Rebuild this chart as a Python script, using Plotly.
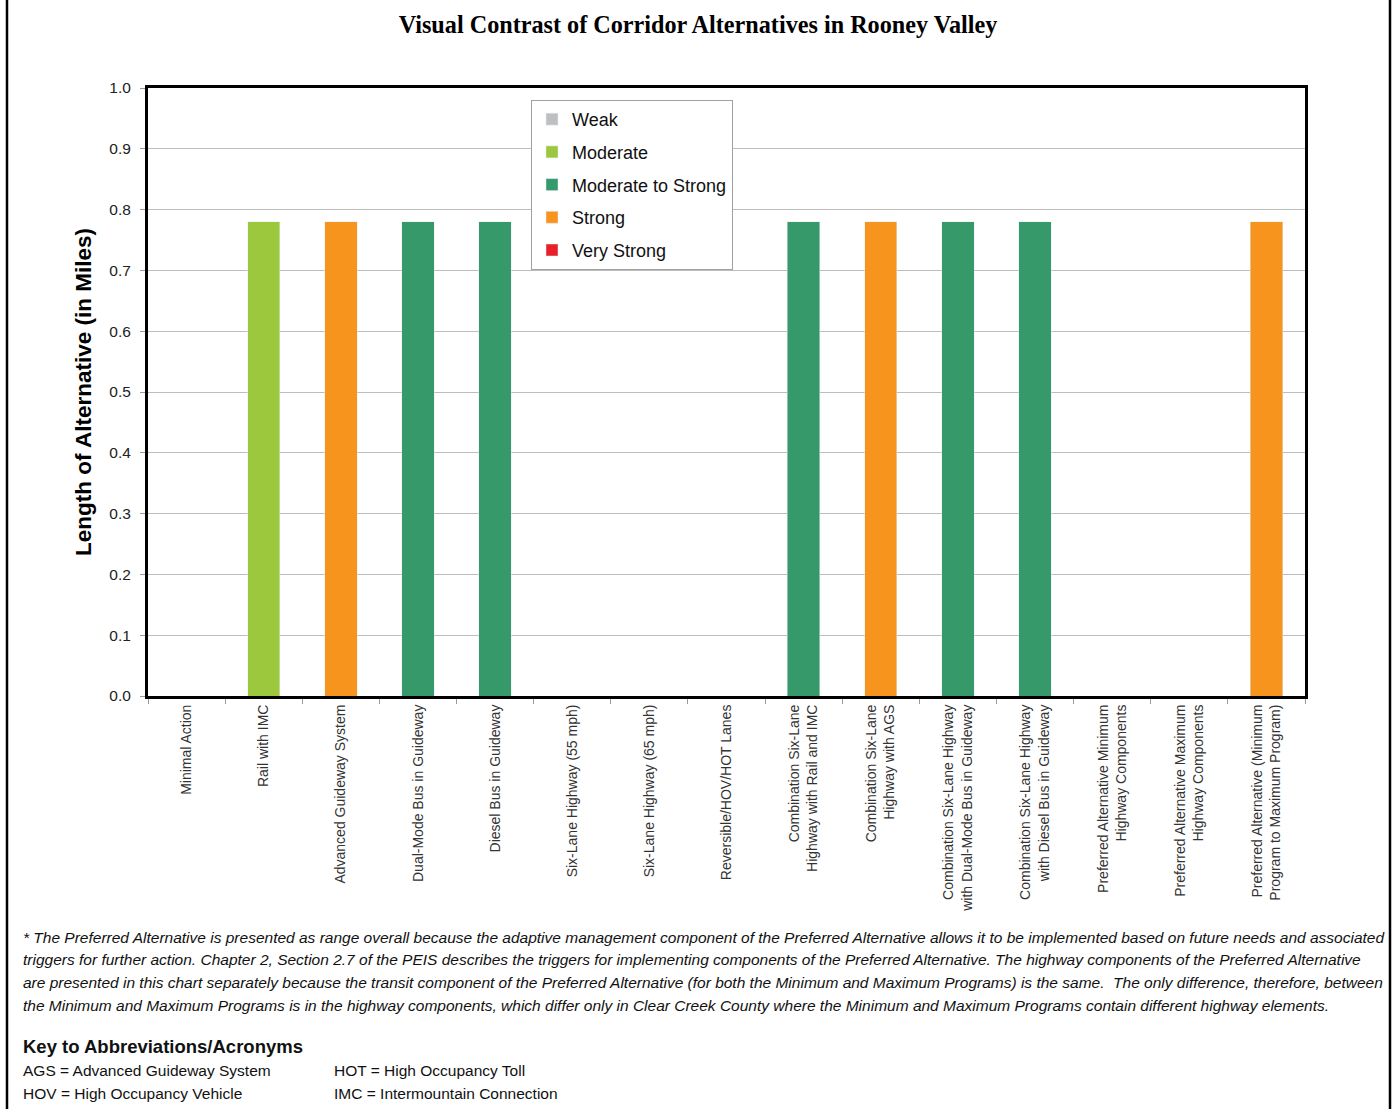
import plotly.graph_objects as go

# data
alternatives = [
    "Minimal Action",
    "Rail with IMC",
    "Advanced Guideway System",
    "Dual-Mode Bus in Guideway",
    "Diesel Bus in Guideway",
    "Six-Lane Highway (55 mph)",
    "Six-Lane Highway (65 mph)",
    "Reversible/HOV/HOT Lanes",
    "Combination Six-Lane<br>Highway with Rail and IMC",
    "Combination Six-Lane<br>Highway with AGS",
    "Combination Six-Lane Highway<br>with Dual-Mode Bus in Guideway",
    "Combination Six-Lane Highway<br>with Diesel Bus in Guideway",
    "Preferred Alternative Minimum<br>Highway Components",
    "Preferred Alternative Maximum<br>Highway Components",
    "Preferred Alternative (Minimum<br>Program to Maximum Program)",
]
lengths = [0, 0.78, 0.78, 0.78, 0.78, 0, 0, 0, 0.78, 0.78, 0.78, 0.78, 0, 0, 0.78]
contrast = ["", "Moderate", "Strong", "Moderate to Strong", "Moderate to Strong",
            "", "", "", "Moderate to Strong", "Strong", "Moderate to Strong",
            "Moderate to Strong", "", "", "Strong"]
levels = ["Weak", "Moderate", "Moderate to Strong", "Strong", "Very Strong"]
level_colors = ["#BFBFBF", "#9BC83C", "#35996A", "#F7941D", "#E8202A"]

y_ticks = [0.0, 0.1, 0.2, 0.3, 0.4, 0.5, 0.6, 0.7, 0.8, 0.9, 1.0]

footnote = [
    "* The Preferred Alternative is presented as range overall because the adaptive management component of the Preferred Alternative allows it to be implemented based on future needs and associated",
    "triggers for further action. Chapter 2, Section 2.7 of the PEIS describes the triggers for implementing components of the Preferred Alternative. The highway components of the Preferred Alternative",
    "are presented in this chart separately because the transit component of the Preferred Alternative (for both the Minimum and Maximum Programs) is the same.  The only difference, therefore, between",
    "the Minimum and Maximum Programs is in the highway components, which differ only in Clear Creek County where the Minimum and Maximum Programs contain different highway elements.",
]
key_left = ["AGS = Advanced Guideway System", "HOV = High Occupancy Vehicle"]
key_right = ["HOT = High Occupancy Toll", "IMC = Intermountain Connection"]

# layout in pixels
W, H = 1392, 1109
L, R, T, B = 148, 1305, 88, 696


def px(x):
    return (x - L) / (R - L)


def py(y):
    return (B - y) / (B - T)


sans = "Liberation Sans, Arial"

fig = go.Figure()
for lvl, col in zip(levels, level_colors):
    vals = [v if c == lvl else None for v, c in zip(lengths, contrast)]
    fig.add_trace(go.Bar(name=lvl, x=alternatives, y=vals, marker_color=col,
                         width=0.42, legendgroup=lvl))

fig.update_layout(
    width=W, height=H,
    margin=dict(l=L, r=W - R, t=T, b=H - B),
    plot_bgcolor="white", paper_bgcolor="white",
    barmode="stack",
    showlegend=True,
    font=dict(family=sans, color="#222"),
    title=dict(text="<b>Visual Contrast of Corridor Alternatives in Rooney Valley</b>",
               x=698 / W, xref="container", xanchor="center",
               y=1 - 25 / H, yanchor="middle",
               font=dict(family="Liberation Serif, Times New Roman", size=24.2, color="black")),
    legend=dict(x=px(531), y=py(100), xanchor="left", yanchor="top",
                bordercolor="#A0A0A0", borderwidth=1, bgcolor="white",
                font=dict(family=sans, size=18, color="#111"),
                traceorder="grouped", tracegroupgap=6.3, itemwidth=30),
)
fig.update_xaxes(showline=True, linecolor="black", linewidth=3, mirror=True,
                 ticks="outside", tickson="boundaries", ticklen=5, tickcolor="#999",
                 tickangle=-90, tickfont=dict(size=14, color="#333"), showgrid=False,
                 automargin=False)
fig.update_yaxes(range=[0, 1.0], tickvals=y_ticks, ticktext=[f"{v:.1f}" for v in y_ticks],
                 showline=True, linecolor="black", linewidth=3, mirror=True,
                 ticks="outside", ticklen=5, tickcolor="#999", ticklabelstandoff=6,
                 showgrid=True, gridcolor="#BDBDBD", gridwidth=1,
                 tickfont=dict(size=15.5, color="#222"), automargin=False)

ann = []
ann.append(dict(text="<b>Length of Alternative (in Miles)</b>", x=px(83), y=0.5,
                xref="paper", yref="paper", xanchor="center", yanchor="middle",
                textangle=-90, showarrow=False,
                font=dict(family=sans, size=22.5, color="black")))
for i, line in enumerate(footnote):
    ann.append(dict(text="<i>" + line + "</i>", x=px(21), y=py(937 + i * 22.8),
                    xref="paper", yref="paper", xanchor="left", yanchor="middle",
                    showarrow=False, font=dict(family=sans, size=15.5, color="#111")))
ann.append(dict(text="<b>Key to Abbreviations/Acronyms</b>", x=px(21), y=py(1046),
                xref="paper", yref="paper", xanchor="left", yanchor="middle",
                showarrow=False, font=dict(family=sans, size=18.5, color="#111")))
for i, (a, b) in enumerate(zip(key_left, key_right)):
    ann.append(dict(text=a, x=px(21), y=py(1070 + i * 23), xref="paper", yref="paper",
                    xanchor="left", yanchor="middle", showarrow=False,
                    font=dict(family=sans, size=15.5, color="#111")))
    ann.append(dict(text=b, x=px(332), y=py(1070 + i * 23), xref="paper", yref="paper",
                    xanchor="left", yanchor="middle", showarrow=False,
                    font=dict(family=sans, size=15.5, color="#111")))
fig.update_layout(annotations=ann)

# page frame lines
for xp in (7, 1390):
    fig.add_shape(type="line", xref="paper", yref="paper", x0=px(xp), x1=px(xp),
                  y0=py(0), y1=py(H), line=dict(color="black", width=2.5))

fig.write_html("out.html", config={"displayModeBar": False},
               post_script="document.body.style.margin='0px';")
